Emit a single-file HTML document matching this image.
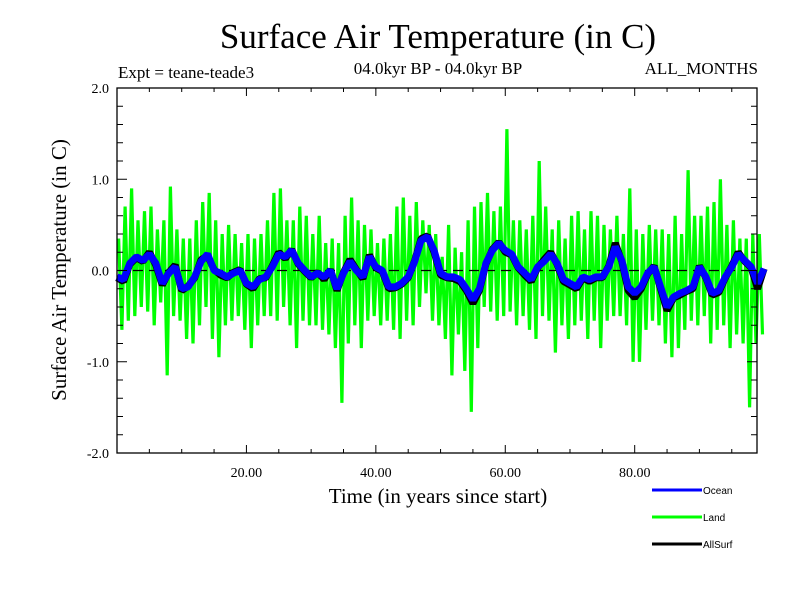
<!DOCTYPE html>
<html><head><meta charset="utf-8"><style>
body{margin:0;background:#fff}
svg{display:block}
text{font-family:"Liberation Serif",serif}
</style></head><body>
<svg id="chart" width="800" height="600" viewBox="0 0 800 600" xmlns="http://www.w3.org/2000/svg">
<rect width="800" height="600" fill="#fff"/>
<text x="438" y="48" font-size="35" text-anchor="middle">Surface Air Temperature (in C)</text>
<text x="118" y="78" font-size="17">Expt = teane-teade3</text>
<text x="438" y="74" font-size="17" text-anchor="middle">04.0kyr BP - 04.0kyr BP</text>
<text x="758" y="74" font-size="17" text-anchor="end">ALL_MONTHS</text>
<text transform="translate(66,270) rotate(-90)" font-size="21" text-anchor="middle">Surface Air Temperature (in C)</text>
<text x="438" y="503" font-size="21" text-anchor="middle">Time (in years since start)</text>
<g id="plot"></g>
<g id="axes"></g>
<g>
<line x1="652" y1="490" x2="702" y2="490" stroke="#0000ff" stroke-width="3"/>
<text x="703" y="494" style="font-family:'Liberation Sans',sans-serif" font-size="10">Ocean</text>
<line x1="652" y1="517" x2="702" y2="517" stroke="#00ff00" stroke-width="3"/>
<text x="703" y="521" style="font-family:'Liberation Sans',sans-serif" font-size="10">Land</text>
<line x1="652" y1="544" x2="702" y2="544" stroke="#000" stroke-width="3"/>
<text x="703" y="548" style="font-family:'Liberation Sans',sans-serif" font-size="10">AllSurf</text>
</g>
</svg>
<script>
const oceanValues=[-0.07,-0.1,0.08,0.15,0.11,0.18,0.08,-0.14,-0.03,0.04,-0.2,-0.18,-0.07,0.1,0.18,0,-0.03,-0.07,-0.03,0,-0.14,-0.18,-0.1,-0.07,0.04,0.18,0.15,0.22,0.08,0,-0.07,-0.03,-0.07,0,-0.2,-0.03,0.1,0,-0.07,0.15,0.04,0,-0.18,-0.18,-0.14,-0.07,0.1,0.33,0.37,0.22,-0.03,-0.07,-0.07,-0.1,-0.2,-0.32,-0.2,0.08,0.22,0.3,0.22,0.18,0.04,-0.03,-0.1,0.04,0.1,0.18,0.08,-0.1,-0.14,-0.18,-0.07,-0.1,-0.07,-0.07,0.04,0.26,0.11,-0.18,-0.25,-0.18,-0.03,0.04,-0.18,-0.4,-0.29,-0.25,-0.22,-0.18,0.04,-0.07,-0.25,-0.22,-0.07,0.04,0.18,0.11,0.04,-0.14,0.02];
const allSurfValues=[-0.08,-0.12,0.07,0.14,0.1,0.2,0.06,-0.16,-0.02,0.06,-0.22,-0.17,-0.08,0.12,0.16,0.01,-0.05,-0.08,-0.02,0.01,-0.15,-0.2,-0.09,-0.08,0.05,0.2,0.13,0.23,0.07,-0.01,-0.08,-0.02,-0.1,0.01,-0.22,-0.02,0.12,0.01,-0.09,0.17,0.03,-0.01,-0.2,-0.19,-0.15,-0.08,0.11,0.35,0.38,0.2,-0.05,-0.08,-0.09,-0.12,-0.22,-0.36,-0.22,0.07,0.23,0.31,0.2,0.17,0.03,-0.05,-0.12,0.03,0.12,0.2,0.07,-0.12,-0.16,-0.2,-0.08,-0.12,-0.08,-0.08,0.05,0.3,0.1,-0.22,-0.3,-0.2,-0.04,0.05,-0.2,-0.44,-0.3,-0.27,-0.23,-0.2,0.05,-0.08,-0.27,-0.24,-0.08,0.05,0.2,0.1,0.03,-0.2,0.02];
const landHigh=[0.35,0.7,0.9,0.55,0.65,0.7,0.45,0.55,0.92,0.45,0.35,0.35,0.55,0.75,0.85,0.55,0.4,0.5,0.4,0.3,0.4,0.35,0.4,0.55,0.85,0.9,0.55,0.55,0.7,0.6,0.4,0.6,0.3,0.35,0.3,0.6,0.8,0.55,0.5,0.45,0.3,0.35,0.4,0.7,0.8,0.6,0.75,0.55,0.5,0.4,0.15,0.5,0.25,0.2,0.55,0.7,0.75,0.85,0.65,0.7,1.55,0.55,0.55,0.45,0.6,1.2,0.7,0.45,0.55,0.35,0.6,0.65,0.45,0.65,0.6,0.5,0.45,0.6,0.4,0.9,0.45,0.4,0.5,0.45,0.45,0.4,0.6,0.4,1.1,0.6,0.6,0.7,0.75,1.0,0.5,0.55,0.35,0.35,0.4,0.4];
const landLow=[-0.65,-0.55,-0.5,-0.4,-0.45,-0.6,-0.35,-1.15,-0.5,-0.55,-0.75,-0.8,-0.6,-0.4,-0.75,-0.95,-0.6,-0.55,-0.5,-0.65,-0.85,-0.6,-0.5,-0.5,-0.55,-0.4,-0.6,-0.85,-0.55,-0.6,-0.6,-0.65,-0.7,-0.85,-1.45,-0.8,-0.6,-0.85,-0.55,-0.5,-0.6,-0.55,-0.65,-0.75,-0.55,-0.6,-0.4,-0.25,-0.55,-0.6,-0.75,-1.15,-0.7,-1.1,-1.55,-0.85,-0.4,-0.45,-0.55,-0.5,-0.45,-0.6,-0.5,-0.65,-0.75,-0.5,-0.55,-0.9,-0.6,-0.75,-0.6,-0.55,-0.75,-0.55,-0.85,-0.55,-0.5,-0.5,-0.6,-1.0,-1.0,-0.65,-0.55,-0.6,-0.8,-0.95,-0.85,-0.65,-0.55,-0.6,-0.5,-0.8,-0.65,-0.6,-0.85,-0.7,-0.8,-1.5,-0.8,-0.7];
const yTickValues=[-2,-1,0,1,2];
const yTickLabels=["-2.0","-1.0","0.0","1.0","2.0"];
const xTickValues=[20,40,60,80];
const xTickLabels=["20.00","40.00","60.00","80.00"];

const NS="http://www.w3.org/2000/svg";
const L=117,R=757,T=88,B=453,X0=0,X1=98.9,Y0=-2,Y1=2;
const xs=v=>L+(v-X0)/(X1-X0)*(R-L);
const ys=v=>B-(v-Y0)/(Y1-Y0)*(B-T);
const plot=document.getElementById('plot'),axes=document.getElementById('axes');
function mk(tag,attrs,parent){const e=document.createElementNS(NS,tag);for(const k in attrs)e.setAttribute(k,attrs[k]);parent.appendChild(e);return e;}

let lp=[];
landHigh.forEach((h,i)=>{lp.push(xs(i+0.25).toFixed(1)+','+ys(h).toFixed(1));lp.push(xs(i+0.75).toFixed(1)+','+ys(landLow[i]).toFixed(1));});
const land=mk('polyline',{points:lp.join(' '),fill:'none',stroke:'#00ff00','stroke-width':3.2,'stroke-linejoin':'miter','stroke-miterlimit':2},plot);


const zl=mk('line',{x1:L,x2:R,y1:ys(0),y2:ys(0),stroke:'#000','stroke-width':1.2,'stroke-dasharray':'10,6'},plot);


function series(vals,color,w){
  let p=[];vals.forEach((v,i)=>{p.push(xs(i).toFixed(1)+','+ys(v).toFixed(1));});
  return mk('polyline',{points:p.join(' '),fill:'none',stroke:color,'stroke-width':w,'stroke-linejoin':'bevel'},plot);
}
const as=series(allSurfValues,'#000',7);


const oc=series(oceanValues,'#0000ff',7);



const fr=mk('rect',{x:L,y:T,width:R-L,height:B-T,fill:'none',stroke:'#000','stroke-width':1.3},axes);


for(let k=-20;k<=20;k+=2){const v=k/10;const major=k%10===0;const len=major?10:6;
  mk('line',{x1:L,x2:L+len,y1:ys(v),y2:ys(v),stroke:'#000','stroke-width':1},axes);
  mk('line',{x1:R,x2:R-len,y1:ys(v),y2:ys(v),stroke:'#000','stroke-width':1},axes);}
yTickValues.forEach((v,i)=>{const t=mk('text',{x:L-8,y:ys(v)+5,'font-size':14,'text-anchor':'end'},axes);t.textContent=yTickLabels[i];
  
  });
for(let v=5;v<X1;v+=5){const major=v%20===0;const len=major?8:4;
  mk('line',{x1:xs(v),x2:xs(v),y1:B,y2:B-len,stroke:'#000','stroke-width':1},axes);
  mk('line',{x1:xs(v),x2:xs(v),y1:T,y2:T+len,stroke:'#000','stroke-width':1},axes);}
xTickValues.forEach((v,i)=>{const t=mk('text',{x:xs(v),y:B+24,'font-size':14,'text-anchor':'middle'},axes);t.textContent=xTickLabels[i];
  
  });
</script>
</body></html>
